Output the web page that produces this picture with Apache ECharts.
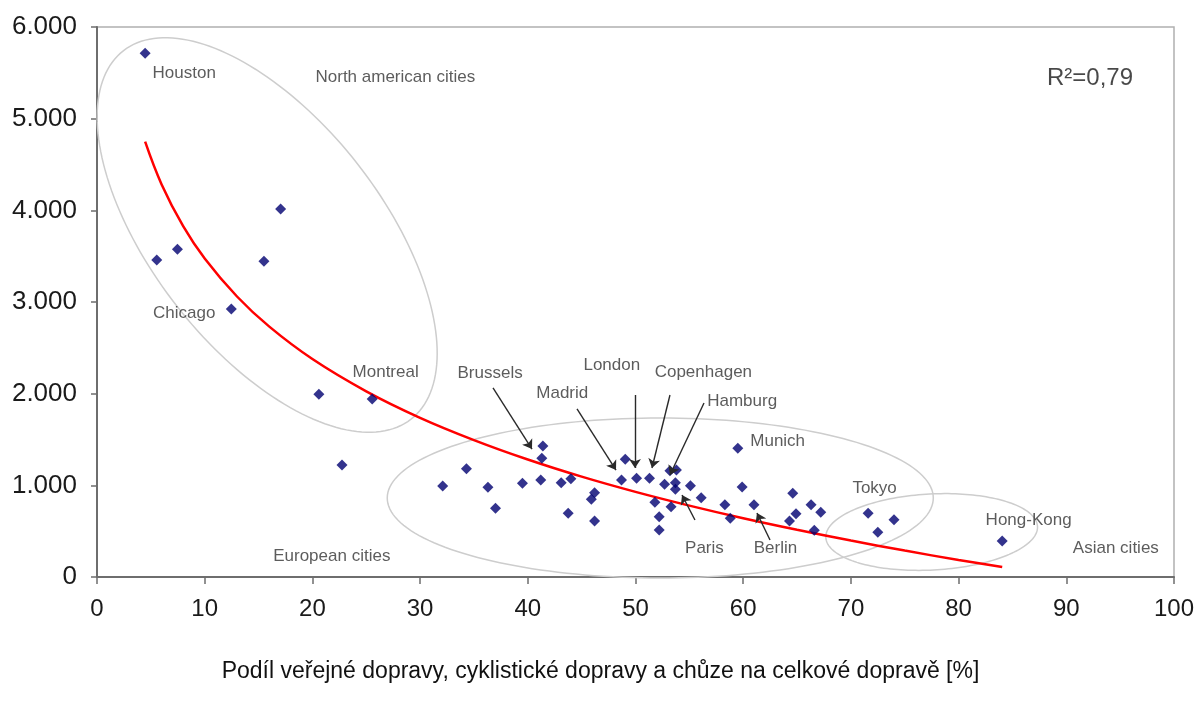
<!DOCTYPE html>
<html>
<head>
<meta charset="utf-8">
<script src="https://cdn.jsdelivr.net/npm/echarts@6/dist/echarts.min.js"></script>
<style>
  html, body { margin: 0; padding: 0; background: #fff; }
  #chart { width: 1201px; height: 707px; }
</style>
</head>
<body>
<div id="chart"></div>
<script>
// Share of public transport, cycling and walking (%) vs. transport energy use per person
const northAmerica = [
  [4.47, 5713], [5.55, 3458], [7.47, 3575], [12.47, 2924], [15.5, 3444],
  [17.05, 4014], [20.6, 1993], [22.75, 1222], [25.55, 1942]
];
const europe = [
  [32.1, 993], [34.3, 1181], [36.3, 978], [37.0, 749], [39.5, 1022],
  [41.4, 1429], [41.3, 1295], [41.2, 1058], [43.1, 1029], [44.0, 1072],
  [43.75, 695], [46.2, 920], [45.9, 847], [46.2, 611], [49.05, 1284],
  [48.7, 1058], [50.1, 1077], [51.3, 1077], [52.7, 1011], [53.2, 1160],
  [53.8, 1167], [53.7, 1029], [53.7, 956], [51.8, 815], [53.3, 767],
  [52.2, 658], [52.2, 513], [55.1, 996], [56.1, 865], [58.3, 789],
  [58.8, 640], [59.5, 1404], [59.9, 982], [61.0, 789], [64.6, 913],
  [64.9, 691], [64.3, 611], [66.3, 789], [67.2, 706], [66.6, 509]
];
const asia = [
  [71.6, 695], [74.0, 625], [72.5, 487], [84.05, 393]
];

// Logarithmic trend curve (R² = 0,79), sampled along its length
const trendX = [4.47, 6, 8, 10, 13, 16, 20, 25, 30, 35, 40, 45, 50, 55, 60, 65, 70, 75, 80, 84.05];
const trendY = [4749, 4283, 3828, 3475, 3060, 2731, 2378, 2026, 1737, 1494, 1282, 1095, 929, 779, 641, 515, 398, 288, 186, 108];

const xTickLabels = ['0', '10', '20', '30', '40', '50', '60', '70', '80', '90', '100'];
const yTickLabels = ['0', '1.000', '2.000', '3.000', '4.000', '5.000', '6.000'];
const xAxisTitle = 'Podíl veřejné dopravy, cyklistické dopravy a chůze na celkové dopravě [%]';
const fitLabel = 'R²=0,79';

// City and region captions: [text, x, y]
const captions = [
  ['Houston', 8.1, 5500],
  ['North american cities', 27.7, 5455],
  ['Chicago', 8.1, 2880],
  ['Montreal', 26.8, 2236],
  ['Brussels', 36.5, 2225],
  ['London', 47.8, 2313],
  ['Madrid', 43.2, 2007],
  ['Copenhagen', 56.3, 2236],
  ['Hamburg', 59.9, 1920],
  ['Munich', 63.2, 1484],
  ['Tokyo', 72.2, 971],
  ['Paris', 56.4, 316],
  ['Berlin', 63.0, 316],
  ['Hong-Kong', 86.5, 622],
  ['Asian cities', 94.6, 316],
  ['European cities', 21.8, 229]
];

// Pointer arrows: [from, to]
const pointers = [
  [[36.77, 2062], [40.39, 1396]],
  [[44.57, 1833], [48.19, 1167]],
  [[49.95, 1985], [49.95, 1189]],
  [[53.2, 1985], [51.53, 1189]],
  [[56.36, 1898], [53.2, 1113]],
  [[55.52, 622], [54.32, 895]],
  [[62.49, 404], [61.28, 698]]
];

// City groups: [centerX, centerY, semi-axis in x units, semi-axis in y units, tilt deg]
const groups = [
  [15.8, 3731, 21.7, 1254, 52],
  [52.3, 862, 25.35, 873, 0],
  [77.5, 491, 9.84, 415, -3]
];

const allCities = northAmerica.concat(europe, asia);
const trend = trendX.map((x, i) => [x, trendY[i]]);

const chart = echarts.init(document.getElementById('chart'), null, { renderer: 'canvas' });
const textFont = 'Liberation Sans, Arial, sans-serif';

chart.setOption({
  animation: false,
  backgroundColor: '#fff',
  title: {
    text: xAxisTitle,
    left: 'center',
    top: 655,
    textStyle: { fontSize: 23, fontWeight: 'normal', color: '#111', fontFamily: textFont }
  },
  grid: {
    left: 97, right: 27, top: 27, bottom: 130,
    show: true, borderColor: '#b0b0b0', borderWidth: 1.5
  },
  xAxis: {
    type: 'value', min: 0, max: 100, interval: 10,
    axisLine: { show: true, onZero: false, lineStyle: { color: '#6e6e6e', width: 2 } },
    axisTick: { show: true, length: 7, lineStyle: { color: '#6e6e6e', width: 1.5 } },
    axisLabel: {
      margin: 20, fontSize: 24, color: '#1a1a1a', fontFamily: textFont,
      formatter: v => xTickLabels[Math.round(v / 10)]
    },
    splitLine: { show: false }
  },
  yAxis: {
    type: 'value', min: 0, max: 6000, interval: 1000,
    axisLine: { show: true, onZero: false, lineStyle: { color: '#6e6e6e', width: 2 } },
    axisTick: { show: true, length: 6, lineStyle: { color: '#6e6e6e', width: 1.5 } },
    axisLabel: {
      margin: 20, fontSize: 26, color: '#1a1a1a', fontFamily: textFont,
      formatter: v => yTickLabels[Math.round(v / 1000)]
    },
    splitLine: { show: false }
  },
  series: [
    {
      type: 'custom',
      name: 'groups',
      silent: true,
      clip: false,
      z: 1,
      data: groups,
      renderItem: (params, api) => {
        const c = api.coord([api.value(0), api.value(1)]);
        const a = api.size([api.value(2), 0])[0];
        const b = api.size([0, api.value(3)])[1];
        const th = api.value(4) * Math.PI / 180;
        const pts = [];
        for (let i = 0; i < 180; i++) {
          const t = i / 180 * Math.PI * 2;
          const ex = a * Math.cos(t), ey = b * Math.sin(t);
          pts.push([c[0] + ex * Math.cos(th) - ey * Math.sin(th),
                    c[1] + ex * Math.sin(th) + ey * Math.cos(th)]);
        }
        return {
          type: 'polygon',
          shape: { points: pts },
          style: { fill: 'none', stroke: '#cdcdcd', lineWidth: 1.5 }
        };
      }
    },
    {
      type: 'line',
      name: 'trend',
      data: trend,
      showSymbol: false,
      smooth: 0.4,
      silent: true,
      z: 3,
      lineStyle: { color: '#ff0000', width: 2.5 }
    },
    {
      type: 'scatter',
      name: 'cities',
      data: allCities,
      symbol: 'diamond',
      symbolSize: 11,
      z: 4,
      itemStyle: { color: '#000070' }
    },
    {
      type: 'lines',
      coordinateSystem: 'cartesian2d',
      silent: true,
      z: 5,
      symbol: ['none', 'arrow'],
      symbolSize: 9,
      lineStyle: { color: '#2a2a2a', width: 1.4, opacity: 1 },
      data: pointers.map(p => ({ coords: p }))
    },
    {
      type: 'scatter',
      name: 'captions',
      silent: true,
      z: 6,
      symbolSize: 0,
      itemStyle: { color: 'transparent' },
      data: captions.map(c => ({ name: c[0], value: [c[1], c[2]] })),
      label: {
        show: true, position: 'inside', formatter: '{b}',
        fontSize: 17, color: '#333', fontFamily: textFont
      }
    },
    {
      type: 'scatter',
      name: 'fit',
      silent: true,
      z: 6,
      symbolSize: 0,
      itemStyle: { color: 'transparent' },
      data: [{ name: fitLabel, value: [92.2, 5443] }],
      label: {
        show: true, position: 'inside', formatter: '{b}',
        fontSize: 24, color: '#1a1a1a', fontFamily: textFont
      }
    }
  ]
});
</script>
</body>
</html>
